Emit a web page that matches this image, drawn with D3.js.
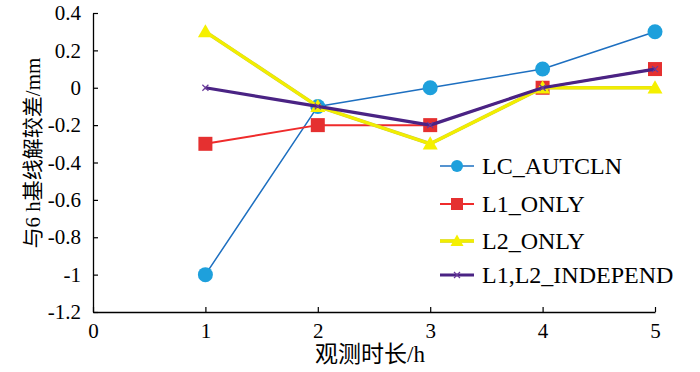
<!DOCTYPE html>
<html><head><meta charset="utf-8">
<script src="https://cdn.jsdelivr.net/npm/d3@7"></script>
<style>body{margin:0;background:#fff}svg{display:block}</style>
</head><body>
<svg id="c" width="700" height="372"></svg>
<script>
const xValues = [1, 2, 3, 4, 5];
const xTicks = [0, 1, 2, 3, 4, 5];
const yTicks = [0.4, 0.2, 0, -0.2, -0.4, -0.6, -0.8, -1, -1.2];
const seriesNames = ["LC_AUTCLN", "L1_ONLY", "L2_ONLY", "L1,L2_INDEPEND"];
const lcAutcln = [-1, -0.1, 0, 0.1, 0.3];
const l1Only = [-0.3, -0.2, -0.2, 0, 0.1];
const l2Only = [0.3, -0.1, -0.3, 0, 0];
const l1l2Independ = [0, -0.1, -0.2, 0, 0.1];
const xTitle = "观测时长/h";
const yTitle = "与6 h基线解较差/mm";

(function () {
const svg = d3.select("#c");
const mL = 93, mR = 655, mT = 13, mB = 312;
const x = d3.scaleLinear().domain([0, 5]).range([mL, mR]);
const y = d3.scaleLinear().domain([-1.2, 0.4]).range([mB, mT]);
const font = "'Liberation Serif','Times New Roman',serif";
const cjk = "'Liberation Serif','Noto Sans CJK SC',serif";
const fmtY = d => { let s = d3.format(".1f")(d); s = s.replace(/\.0$/, ""); return s.replace("\u2212", "-"); };

const xa = svg.append("g").attr("transform", `translate(0,${mB})`)
  .call(d3.axisBottom(x).tickValues(xTicks).tickFormat(d3.format("d")).tickSizeInner(-5).tickSizeOuter(0).tickPadding(11));
const ya = svg.append("g").attr("transform", `translate(${mL},0)`)
  .call(d3.axisLeft(y).tickValues(yTicks).tickFormat(fmtY).tickSizeInner(-5).tickSizeOuter(0).tickPadding(12));
[xa, ya].forEach(a => {
  a.selectAll("path.domain").attr("stroke", "#000").attr("stroke-width", 1.3);
  a.selectAll(".tick line").attr("stroke", "#000").attr("stroke-width", 1.2);
  a.selectAll("text").attr("font-family", font).attr("font-size", 21).attr("fill", "#000");
});

svg.append("text").attr("x", 370).attr("y", 362)
  .attr("text-anchor", "middle").attr("font-family", cjk).attr("font-size", 23).text(xTitle);
svg.append("text").attr("transform", `translate(40,153) rotate(-90)`)
  .attr("text-anchor", "middle").attr("font-family", cjk).attr("font-size", 21).text(yTitle);

const line = d3.line().x((d, i) => x(xValues[i])).y(d => y(d));
const series = [
  {name: seriesNames[0], data: lcAutcln, color: "#1d6fc0", width: 1.5, marker: "circle", fill: "#1ea0dc"},
  {name: seriesNames[1], data: l1Only, color: "#ef2b2b", width: 2, marker: "square", fill: "#e53030"},
  {name: seriesNames[2], data: l2Only, color: "#f2ee00", width: 3, marker: "triangle", fill: "#f5f000"},
  {name: seriesNames[3], data: l1l2Independ, color: "#4a2384", width: 3.2, marker: "cross", fill: "#4a2384"}
];

function drawMarker(g, s, cx, cy, legend) {
  if (s.marker === "circle") {
    g.append("circle").attr("cx", cx).attr("cy", cy).attr("r", legend ? 6 : 7.5).attr("fill", s.fill);
  } else if (s.marker === "square") {
    const h = legend ? 6 : 7;
    g.append("rect").attr("x", cx - h).attr("y", cy - h).attr("width", 2 * h).attr("height", 2 * h).attr("fill", s.fill);
  } else if (s.marker === "triangle") {
    const h = legend ? 6.5 : 7.5;
    g.append("path").attr("d", `M${cx},${cy - h}L${cx + h},${cy + h * 0.75}L${cx - h},${cy + h * 0.75}Z`).attr("fill", s.fill);
  } else {
    const h = 3;
    g.append("path").attr("d", `M${cx - h},${cy - h}L${cx + h},${cy + h}M${cx - h},${cy + h}L${cx + h},${cy - h}`)
      .attr("stroke", "#6a3a9a").attr("stroke-width", 1.2);
  }
}

series.forEach(s => {
  const g = svg.append("g");
  if (s.marker === "triangle") {
    g.append("path").attr("d", line(s.data)).attr("fill", "none").attr("stroke", "#c8c840").attr("stroke-width", s.width + 0.6);
  }
  g.append("path").attr("d", line(s.data)).attr("fill", "none").attr("stroke", s.color).attr("stroke-width", s.width).attr("stroke-linejoin", "round");
  s.data.forEach((d, i) => drawMarker(g, s, x(xValues[i]), y(d), false));
});

const legendY = [166, 204, 241, 275];
series.forEach((s, i) => {
  const g = svg.append("g");
  const ly = legendY[i];
  if (s.marker === "triangle") g.append("line").attr("x1", 440).attr("x2", 474).attr("y1", ly).attr("y2", ly).attr("stroke", "#c8c840").attr("stroke-width", s.width + 0.6);
  g.append("line").attr("x1", 440).attr("x2", 474).attr("y1", ly).attr("y2", ly).attr("stroke", s.color).attr("stroke-width", s.width);
  drawMarker(g, s, 457, ly, true);
  g.append("text").attr("x", 482).attr("y", ly + 8).attr("font-family", font).attr("font-size", 24).text(s.name);
});
})();
</script>
</body></html>
